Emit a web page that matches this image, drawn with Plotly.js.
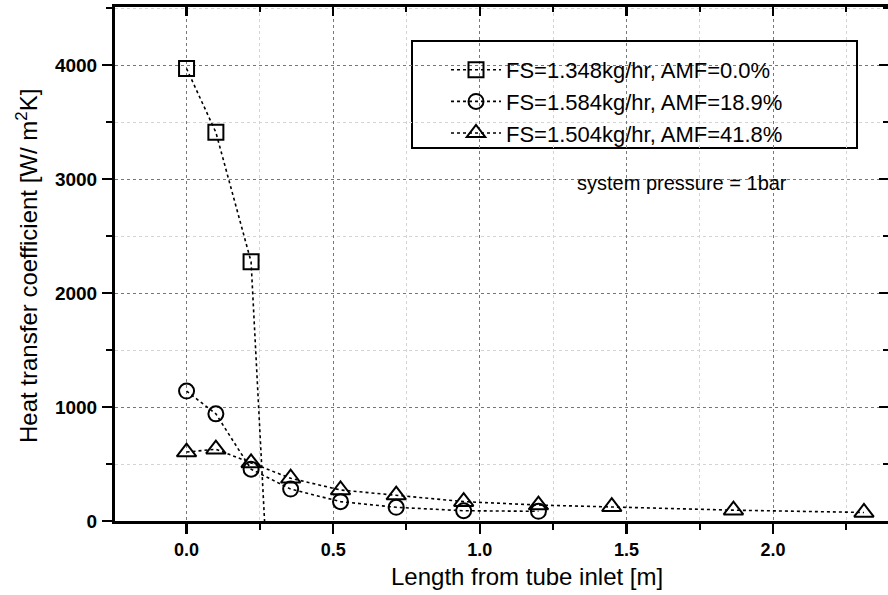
<!DOCTYPE html>
<html>
<head>
<meta charset="utf-8">
<script src="https://cdn.plot.ly/plotly-3.0.1.min.js"></script>
<style>html,body{margin:0;padding:0;background:#fff;}#chart{width:888px;height:595px;}</style>
</head>
<body>
<div id="chart"></div>
<script>
// Series 1: FS=1.348kg/hr, AMF=0.0% (last point lies below the axis, only its line is visible)
const xSquare = [0.0, 0.10, 0.22, 0.365];
const ySquare = [3970, 3410, 2275, -4900];
// Series 2: FS=1.584kg/hr, AMF=18.9%
const xCircle = [0.0, 0.10, 0.22, 0.355, 0.525, 0.715, 0.945, 1.20];
const yCircle = [1140, 940, 455, 280, 170, 120, 90, 85];
// Series 3: FS=1.504kg/hr, AMF=41.8%
const xTriangle = [0.0, 0.10, 0.22, 0.355, 0.525, 0.715, 0.945, 1.20, 1.45, 1.865, 2.31];
const yTriangle = [605, 630, 510, 375, 272, 228, 170, 140, 125, 95, 75];

const seriesNames = ["FS=1.348kg/hr, AMF=0.0%", "FS=1.584kg/hr, AMF=18.9%", "FS=1.504kg/hr, AMF=41.8%"];
const xTitle = "Length from tube inlet [m]";
const yTitle = "Heat transfer coefficient [W/ m<sup>2</sup>K]";
const noteText = "system pressure = 1bar";

const FONT = "Liberation Sans, Arial, Helvetica, sans-serif";

// plot area in pixels (used to convert pixel placements to paper coords)
const W = 888, H = 595, ML = 115, MR = 0, MT = 7, MB = 74;
const PW = W - ML - MR, PH = H - MT - MB;
const px = v => (v - ML) / PW;
const py = v => (H - MB - v) / PH;

function mk(x, y, name, symbol, size) {
  return {
    x: x, y: y, name: name, type: "scatter", mode: "lines+markers",
    line: {color: "#000", width: 1.6, dash: "dot"},
    marker: {symbol: symbol, size: size, color: "#000", line: {color: "#000", width: 2}},
    cliponaxis: true
  };
}

const traces = [
  mk(xSquare, ySquare, seriesNames[0], "square-open", 15),
  mk(xCircle, yCircle, seriesNames[1], "circle-open", 15),
  mk(xTriangle, yTriangle, seriesNames[2], "triangle-up-open", 17)
];

const xr = [-0.244, 2.392];
const yr = [0, 4510];

const layout = {
  width: W, height: H,
  margin: {l: ML, r: MR, t: MT, b: MB},
  paper_bgcolor: "#fff", plot_bgcolor: "#fff",
  font: {family: FONT, color: "#000"},
  showlegend: true,
  legend: {
    x: px(446), y: py(49), xanchor: "left", yanchor: "top",
    bgcolor: "rgba(0,0,0,0)", borderwidth: 0,
    font: {family: FONT, size: 22, color: "#000"},
    itemwidth: 50, tracegroupgap: 0
  },
  xaxis: {
    range: xr, tick0: 0, dtick: 0.5, tickformat: ".1f",
    ticks: "outside", ticklen: 10, tickwidth: 2.5, tickcolor: "#000",
    showline: true, linecolor: "#000", linewidth: 3,
    showgrid: true, gridcolor: "#777", griddash: "dot", gridwidth: 1,
    zeroline: false,
    tickfont: {family: FONT, size: 18, weight: "bold", color: "#000"},
    minor: {dtick: 0.25, ticks: "outside", ticklen: 6, tickwidth: 2, tickcolor: "#000",
            showgrid: true, gridcolor: "#d4d4d4", griddash: "dot", gridwidth: 1}
  },
  yaxis: {
    range: yr, tick0: 0, dtick: 1000,
    ticks: "outside", ticklen: 10, tickwidth: 2.5, tickcolor: "#000",
    showline: true, linecolor: "#000", linewidth: 3,
    showgrid: true, gridcolor: "#777", griddash: "dot", gridwidth: 1,
    zeroline: false, ticklabelstandoff: 1,
    tickfont: {family: FONT, size: 19, weight: "bold", color: "#000"},
    minor: {dtick: 500, ticks: "outside", ticklen: 6, tickwidth: 2, tickcolor: "#000",
            showgrid: true, gridcolor: "#d4d4d4", griddash: "dot", gridwidth: 1}
  },
  xaxis2: {
    overlaying: "x", side: "top", anchor: "y", matches: "x", range: xr,
    tick0: 0, dtick: 0.5, ticks: "inside", ticklen: 9, tickwidth: 2.5, tickcolor: "#000",
    showticklabels: false, showline: true, linecolor: "#000", linewidth: 3,
    showgrid: false, zeroline: false,
    minor: {dtick: 0.25, ticks: "inside", ticklen: 5, tickwidth: 2, tickcolor: "#000", showgrid: false}
  },
  yaxis2: {
    overlaying: "y", side: "right", anchor: "x", matches: "y", range: yr,
    tick0: 0, dtick: 1000, ticks: "inside", ticklen: 9, tickwidth: 2.5, tickcolor: "#000",
    showticklabels: false, showline: true, linecolor: "#000", linewidth: 3,
    showgrid: false, zeroline: false,
    minor: {dtick: 500, ticks: "inside", ticklen: 5, tickwidth: 2, tickcolor: "#000", showgrid: false}
  },
  shapes: [
    // legend frame
    {type: "rect", xref: "paper", yref: "paper", layer: "between",
     x0: px(412), x1: px(857), y0: py(148), y1: py(41),
     fillcolor: "#fff", line: {color: "#000", width: 2}}
  ],
  annotations: [
    {text: noteText, xref: "paper", yref: "paper", x: px(682), y: py(183),
     xanchor: "center", yanchor: "middle", showarrow: false,
     font: {family: FONT, size: 20, color: "#000"}},
    {text: xTitle, xref: "paper", yref: "paper", x: px(527), y: py(576),
     xanchor: "center", yanchor: "middle", showarrow: false,
     font: {family: FONT, size: 24, color: "#000"}},
    {text: yTitle, xref: "paper", yref: "paper", x: px(27), y: py(266),
     xanchor: "center", yanchor: "middle", showarrow: false, textangle: -90,
     font: {family: FONT, size: 24, color: "#000"}}
  ]
};

// invisible helper trace so the mirrored top/right frame axes are drawn
traces.push({x: [], y: [], xaxis: "x2", yaxis: "y2", type: "scatter", mode: "markers",
             showlegend: false, hoverinfo: "skip"});

Plotly.newPlot("chart", traces, layout, {displayModeBar: false, staticPlot: true});
</script>
</body>
</html>
